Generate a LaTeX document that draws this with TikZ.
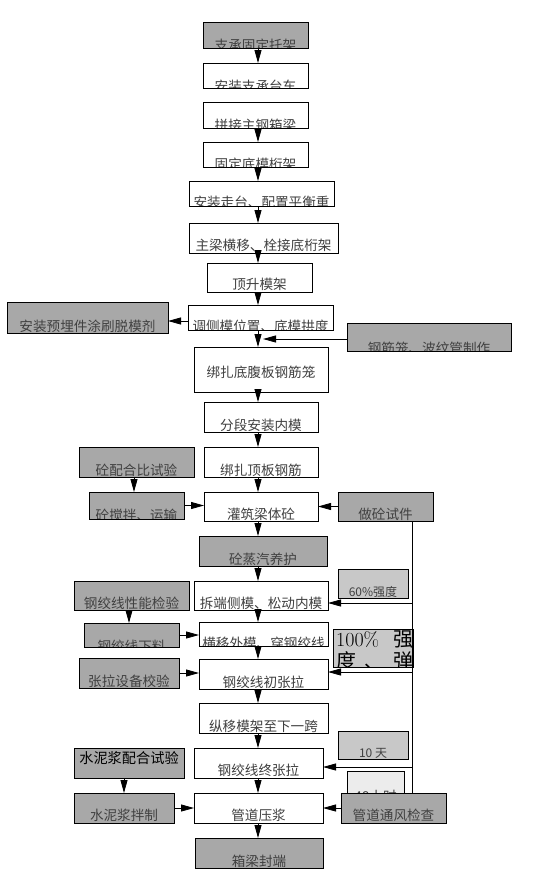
\documentclass[tikz,border=0pt]{standalone}
\usepackage{fontspec}
\newfontfamily\cjk{Noto Sans CJK SC}
\usetikzlibrary{arrows.meta}
\definecolor{dkgray}{HTML}{A8A8A8}
\definecolor{ltgray}{HTML}{C8C8C8}
\definecolor{vlgray}{HTML}{ECECEC}
\definecolor{txt}{HTML}{404040}
\tikzset{
 box/.style={draw=none, inner sep=0pt, outer sep=0pt},
 plain/.style={fill=white},
 dark/.style={fill=dkgray},
 light/.style={fill=ltgray},
 vlight/.style={fill=vlgray},
 lbl/.style={anchor=base, inner sep=0pt, text=txt, font=\cjk\fontsize{13.6}{14}\selectfont},
 small/.style={font=\cjk\fontsize{12}{13}\selectfont},
 blk/.style={text=black, font=\cjk\fontsize{14.2}{15}\selectfont},
 boxline/.style={draw=black, line width=0.8pt},
 arr/.style={draw=black, line width=0.8pt, -{Triangle[length=13pt,width=7pt]}},
 tline/.style={draw=black, line width=0.8pt},
}
\newcommand\bx[9]{%
  \node[box,#2,minimum width={(#5-#3)*1pt},minimum height={(#6-#4)*1pt}] (#1) at ({(#3+#5)/2},{(#4+#6)/2}) {};
  \begin{scope}
    \clip (#1.south west) rectangle (#1.north east);
    \node[lbl,#8] (#1t) at ({(#3+#5)/2},#7) {#9};
  \end{scope}
  \draw[boxline] (#1.south west) rectangle (#1.north east);
}
\begin{document}
\begin{tikzpicture}[x=1pt,y=-1pt]
\useasboundingbox (0,0) rectangle (533,878);
% main column
\bx{a1}{dark}{203}{22}{308}{48}{50}{}{支承固定托架}
\bx{a2}{plain}{203}{63}{308}{88}{91}{}{安装支承台车}
\bx{a3}{plain}{203}{102}{308}{128}{130}{}{拼接主钢箱梁}
\bx{a4}{plain}{203}{142}{308}{167}{169}{}{固定底模桁架}
\bx{a5}{plain}{189}{181}{334}{206}{207}{}{安装走台、配置平衡重}
\bx{a6}{plain}{189}{223}{338}{253}{250}{}{主梁横移、栓接底桁架}
\bx{a7}{plain}{207}{263}{312}{292}{289}{}{顶升模架}
\bx{a8}{plain}{188}{305}{333}{330}{331}{}{调侧模位置、底模拱度}
\bx{a9}{plain}{194}{347}{328}{392}{377}{}{绑扎底腹板钢筋笼}
\bx{a10}{plain}{204}{402}{318}{432}{430}{}{分段安装内模}
\bx{a11}{plain}{204}{447}{318}{477}{475}{}{绑扎顶板钢筋}
\bx{a12}{plain}{204}{492}{318}{521}{519}{}{灌筑梁体砼}
\bx{a13}{dark}{199}{536}{327}{566}{564}{}{砼蒸汽养护}
\bx{a14}{plain}{194}{581}{328}{610}{608}{}{拆端侧模、松动内模}
\bx{a15}{plain}{199}{622}{328}{646}{648}{}{横移外模、穿钢绞线}
\bx{a16}{plain}{199}{659}{328}{689}{687}{}{钢绞线初张拉}
\bx{a17}{plain}{199}{703}{328}{733}{731}{}{纵移模架至下一跨}
\bx{a18}{plain}{194}{748}{323}{778}{775}{}{钢绞线终张拉}
\bx{a19}{plain}{194}{793}{323}{823}{820}{}{管道压浆}
\bx{a20}{dark}{195}{838}{323}{868}{866}{}{箱梁封端}
% side boxes
\bx{s1}{dark}{7}{302}{168}{333}{331}{}{安装预埋件涂刷脱模剂}
\bx{s2}{dark}{347}{323}{511}{351}{353}{}{钢筋笼、波纹管制作}
\bx{s3}{dark}{79}{447}{194}{477}{475}{}{砼配合比试验}
\bx{s4}{dark}{89}{492}{184}{519}{520}{}{砼搅拌、运输}
\bx{s5}{dark}{338}{492}{433}{521}{519}{}{做砼试件}
\bx{s6}{dark}{74}{581}{189}{610}{608}{}{钢绞线性能检验}
\bx{s7}{dark}{84}{623}{179}{647}{651}{}{钢绞线下料}
\bx{s8}{dark}{79}{658}{179}{688}{686}{}{张拉设备校验}
\bx{s9}{dark}{74}{748}{184}{778}{763}{blk}{水泥浆配合试验}
\bx{s11}{dark}{74}{793}{174}{823}{820}{}{水泥浆拌制}
% time notes
\bx{n1}{light}{338}{569}{408}{598}{596}{small}{60\%强度}
\bx{n3}{light}{338}{731}{408}{759}{757}{small}{10 天}
\bx{n4}{vlight}{347}{771}{404}{805}{801}{}{48小时}
\bx{s10}{dark}{341}{793}{446}{823}{820}{}{管道通风检查}
% 100% box
\node[box,light,minimum width=80pt,minimum height=38pt] (n2) at (373,648) {};
\begin{scope}
  \clip (n2.south west) rectangle (n2.north east);
  \node[anchor=base west,inner sep=0pt,text=black,font=\fontsize{20}{21}\selectfont] (n2a) at (336,646) {\makebox[77pt][l]{100\%\hfill{\cjk 强}}};
  \node[anchor=base west,inner sep=0pt,text=black,font=\fontsize{20}{21}\selectfont] (n2b) at (336,668) {\makebox[77pt][l]{{\cjk 度}\hfill{\cjk 、}\hfill{\cjk 弹}}};
\end{scope}
\draw[boxline] (n2.south west) rectangle (n2.north east);
% main arrows
\coordinate (xm) at (258,0);
\foreach \p/\q in {a1/a2,a3/a4,a4/a5,a5/a6,a6/a7,a7/a8,a8/a9,a9/a10,a10/a11,a11/a12,a12/a13,a13/a14,a14/a15,a15/a16,a16/a17,a17/a18,a18/a19,a19/a20}
  \draw[arr] (\p.south -| xm) -- (\q.north -| xm);
% side arrows
\draw[arr] ([yshift=-3.5pt]a8.west) -- ([yshift=-3.5pt]a8.west -| s1.east);
\coordinate (j1) at (263,339);
\draw[arr] (j1 -| s2.west) -- (j1);
\coordinate (x1) at (134,0);
\draw[arr] (s3.south -| x1) -- (s4.north -| x1);
\draw[arr] (s4.east) -- (s4.east -| a12.west);
\draw[arr] (s5.west) -- (s5.west -| a12.east);
\coordinate (x2) at (129,0);
\draw[arr] (s6.south -| x2) -- (s7.north -| x2);
\draw[arr] (s7.east) -- (s7.east -| a15.west);
\draw[arr] (s8.east) -- (s8.east -| a16.west);
\coordinate (x3) at (124,0);
\draw[arr] (s9.south -| x3) -- (s11.north -| x3);
\draw[arr] (s11.east) -- (s11.east -| a19.west);
\draw[arr] (s10.west) -- (s10.west -| a19.east);
% time line on the right
\coordinate (vx) at (412.5,0);
\draw[tline] (s5.south -| vx) -- (s10.north -| vx);
\coordinate (b1) at (412.5,603);
\coordinate (b2) at (412.5,672);
\coordinate (b3) at (412.5,767);
\draw[arr] (b1) -- (b1 -| a14.east);
\draw[arr] (b2) -- (b2 -| a16.east);
\draw[arr] (b3) -- (b3 -| a18.east);
\end{tikzpicture}
\end{document}
